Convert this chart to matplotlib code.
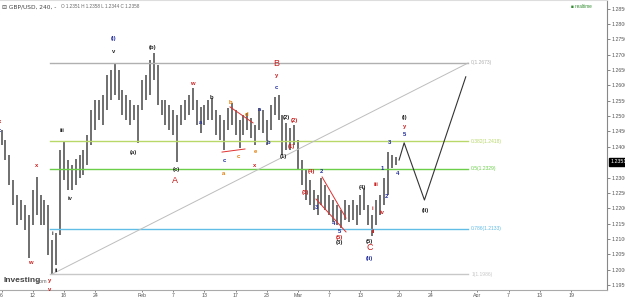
import numpy as np
import matplotlib.pyplot as plt

plt.rcParams['font.family'] = ['Liberation Sans', 'DejaVu Sans']

# x = trading days from 1 Feb 2017, two bars per day (4h candles grouped)
day = np.arange(-18, 33, 0.5)
high = [1.2455, 1.2422, 1.2373, 1.2292, 1.2243, 1.2227, 1.2211, 1.2178, 1.2260, 1.2302,
        1.2243, 1.2227, 1.2211, 1.2097, 1.2119, 1.2390, 1.2416, 1.2357, 1.2341, 1.2360,
        1.2373, 1.2390, 1.2439, 1.2520, 1.2553, 1.2553, 1.2569, 1.2634, 1.2650, 1.2673,
        1.2650, 1.2585, 1.2569, 1.2553, 1.2536, 1.2536, 1.2618, 1.2634, 1.2683, 1.2706,
        1.2666, 1.2553, 1.2553, 1.2536, 1.2520, 1.2504, 1.2536, 1.2553, 1.2569, 1.2592,
        1.2553, 1.2530, 1.2536, 1.2553, 1.2559, 1.2520, 1.2504, 1.2487, 1.2526, 1.2543,
        1.2520, 1.2487, 1.2504, 1.2510, 1.2494, 1.2471, 1.2526, 1.2520, 1.2487, 1.2536,
        1.2562, 1.2569, 1.2504, 1.2478, 1.2461, 1.2471, 1.2422, 1.2357, 1.2325, 1.2292,
        1.2260, 1.2243, 1.2299, 1.2276, 1.2243, 1.2227, 1.2211, 1.2194, 1.2227, 1.2211,
        1.2227, 1.2211, 1.2243, 1.2266, 1.2211, 1.2178, 1.2227, 1.2243, 1.2299, 1.2383,
        1.2373, 1.2367]
low = [1.2406, 1.2357, 1.2276, 1.2211, 1.2146, 1.2162, 1.2129, 1.2038, 1.2146, 1.2178,
       1.2146, 1.2146, 1.2048, 1.1986, 1.2015, 1.2113, 1.2292, 1.2260, 1.2260, 1.2276,
       1.2299, 1.2308, 1.2341, 1.2406, 1.2455, 1.2487, 1.2471, 1.2520, 1.2553, 1.2569,
       1.2553, 1.2504, 1.2487, 1.2471, 1.2487, 1.2413, 1.2520, 1.2553, 1.2569, 1.2618,
       1.2536, 1.2504, 1.2471, 1.2455, 1.2439, 1.2351, 1.2471, 1.2487, 1.2504, 1.2520,
       1.2471, 1.2445, 1.2471, 1.2487, 1.2487, 1.2439, 1.2422, 1.2390, 1.2455, 1.2471,
       1.2439, 1.2396, 1.2439, 1.2455, 1.2429, 1.2406, 1.2455, 1.2445, 1.2406, 1.2455,
       1.2504, 1.2487, 1.2373, 1.2390, 1.2390, 1.2406, 1.2325, 1.2276, 1.2227, 1.2211,
       1.2194, 1.2178, 1.2211, 1.2194, 1.2178, 1.2155, 1.2146, 1.2136, 1.2162, 1.2155,
       1.2162, 1.2146, 1.2178, 1.2194, 1.2146, 1.2109, 1.2146, 1.2178, 1.2211, 1.2243,
       1.2331, 1.2341]
last_price = 1.2351

# fibonacci retracement levels
fib_ratio = ['0', '0.382', '0.5', '0.786', '1']
fib_price = [1.2673, 1.2418, 1.2329, 1.2133, 1.1986]
fib_color = ['#b0b0b0', '#b8d86a', '#6ccf4a', '#62bde6', '#c8c8c8']
fib_start, fib_end = -11.8, 41.8

trend_day = [-11.5, 41.8]
trend_price = [1.1986, 1.2673]

# projected path
proj_day = [32.95, 33.6, 36.2, 41.5]
proj_price = [1.2357, 1.2413, 1.2227, 1.2628]

# red channel lines
red_lines = [([11.28, 14.23], [1.2530, 1.2478]),
             ([10.26, 13.2], [1.2383, 1.2393]),
             ([23.08, 26.15], [1.2302, 1.2168]),
             ([22.3, 26.15], [1.2230, 1.2123])]

K, R, B, O = '#222222', '#c81e1e', '#1f2a9c', '#e07800'
waves = [('x', -18.3, 1.2481, R), ('c', -18.3, 1.2452, B),
         ('x', -13.46, 1.2338, R), ('iii', -10.26, 1.2452, K), ('iv', -9.23, 1.2233, K),
         ('w', -14.36, 1.2022, R), ('i', -11.54, 1.2119, K), ('ii', -11.0, 1.1996, K),
         ('y', -11.8, 1.1966, R), ('v', -11.8, 1.1937, R),
         ('v', -3.59, 1.2709, K), ('(i)', -3.59, 1.2754, B),
         ('(a)', -1.15, 1.2383, K), ('(b)', 1.41, 1.2725, K), ('(c)', 4.36, 1.2325, K),
         ('w', 6.41, 1.2605, R), ('a', 7.56, 1.2478, B), ('b', 8.85, 1.2562, K),
         ('c', 10.5, 1.2357, B), ('a', 10.5, 1.2312, O), ('b', 11.4, 1.2543, O),
         ('d', 13.46, 1.2504, O), ('c', 12.4, 1.2367, O), ('e', 14.5, 1.2386, O),
         ('a', 15.1, 1.2523, B), ('b', 16.15, 1.2413, B), ('x', 14.4, 1.2338, R),
         ('y', 17.2, 1.2631, R), ('c', 17.2, 1.2592, B),
         ('(2)', 18.46, 1.2494, K), ('(2)', 19.5, 1.2487, R), ('(1)', 19.2, 1.2400, R),
         ('(1)', 18.1, 1.2367, K), ('(4)', 21.7, 1.2321, R), ('2', 22.95, 1.2321, B),
         ('(3)', 20.9, 1.2253, R), ('3', 22.4, 1.2201, B), ('4', 24.5, 1.2152, B),
         ('5', 25.3, 1.2126, B), ('(5)', 25.3, 1.2106, R), ('(3)', 25.3, 1.2087, K),
         ('(4)', 28.3, 1.2269, K), ('(5)', 29.2, 1.2093, K), ('(ii)', 29.2, 1.2038, B),
         ('i', 29.5, 1.2198, R), ('ii', 29.7, 1.2126, R), ('iii', 30.0, 1.2276, R),
         ('iv', 30.8, 1.2185, R), ('1', 30.8, 1.2331, B), ('2', 31.3, 1.2237, B),
         ('3', 31.7, 1.2413, B), ('4', 32.8, 1.2312, B), ('5', 33.6, 1.2439, B),
         ('y', 33.6, 1.2465, R), ('(i)', 33.6, 1.2497, K), ('(ii)', 36.3, 1.2194, K)]
big_waves = [('A', 4.23, 1.2292), ('B', 17.2, 1.2670), ('C', 29.2, 1.2071)]

tick_day = [-18, -14, -10, -6, 0, 4, 8, 12, 16, 20, 24, 28, 33, 37, 43, 47, 51, 55]
tick_text = ['6', '12', '18', '24', 'Feb', '7', '13', '17', '23', 'Mar', '7', '13', '20', '24',
             'Apr', '7', '13', '19']

fig = plt.figure(figsize=(6.25, 2.97), dpi=100)
ax = fig.add_axes([0, 7 / 297, 607 / 625, 290 / 297])

ax.vlines(day, low, high, color='#6f6f6f', lw=1.4)

for ratio, price, col in zip(fib_ratio, fib_price, fib_color):
    ax.plot([fib_start, fib_end], [price, price], color=col, lw=1.0)
    ax.text(fib_end + 0.4, price, f'{ratio}({price:.4f})', color=col, fontsize=3.6,
            va='center', ha='left')
ax.plot(trend_day, trend_price, color='#bdbdbd', lw=0.7)
ax.plot(proj_day, proj_price, color='#333333', lw=0.8)
for xs, ys in red_lines:
    ax.plot(xs, ys, color='#e03030', lw=0.7)

for txt, x, y, col in waves:
    ax.text(x, y, txt, color=col, fontsize=4.2, ha='center', va='center', fontweight='bold')
for txt, x, y in big_waves:
    ax.text(x, y, txt, color=R, fontsize=6.5, ha='center', va='center')

ax.set_xlim(-18.2, 59.6)
ax.set_ylim(1.1934, 1.2878)
ax.set_xticks(tick_day)
ax.set_xticklabels(tick_text)
yt = [t for t in np.arange(1.195, 1.2851, 0.005) if abs(t - 1.235) > 1e-6]
ax.set_yticks(yt)
ax.set_yticklabels([f'{t:.4f}' for t in yt])
ax.yaxis.tick_right()
ax.tick_params(labelsize=3.8, colors='#555555', length=2, width=0.5, pad=1.5)
ax.tick_params(axis='x', length=1.5, pad=0.6)
ax.spines['left'].set_visible(False)
ax.spines['top'].set_color('#dddddd')
ax.spines['right'].set_color('#888888')
ax.spines['bottom'].set_color('#aaaaaa')
for s in ax.spines.values():
    s.set_linewidth(0.8)

ax.text(1.006, last_price, f'{last_price:.4f}', transform=ax.get_yaxis_transform(),
        fontsize=3.8, color='white', va='center', ha='left',
        bbox=dict(boxstyle='square,pad=0.25', fc='black', ec='black'))

ax.text(0.004, 0.985, '\u229f GBP/USD, 240, -', transform=ax.transAxes, fontsize=4.2,
        color='#444444', va='top', family=['DejaVu Sans'])
ax.text(0.1, 0.985, 'O 1.2351 H 1.2358 L 1.2344 C 1.2358', transform=ax.transAxes,
        fontsize=3.3, color='#666666', va='top')
ax.text(0.975, 0.985, '\u25a0 realtime', transform=ax.transAxes, fontsize=3.3,
        color='#2e8b2e', va='top', ha='right')
ax.text(0.005, 0.02, 'Investing', transform=ax.transAxes, fontsize=6,
        color='#444444', fontweight='bold', va='bottom')
ax.text(0.059, 0.02, '.com', transform=ax.transAxes, fontsize=3.8,
        color='#666666', va='bottom')

fig.savefig('out.png', dpi=100)
